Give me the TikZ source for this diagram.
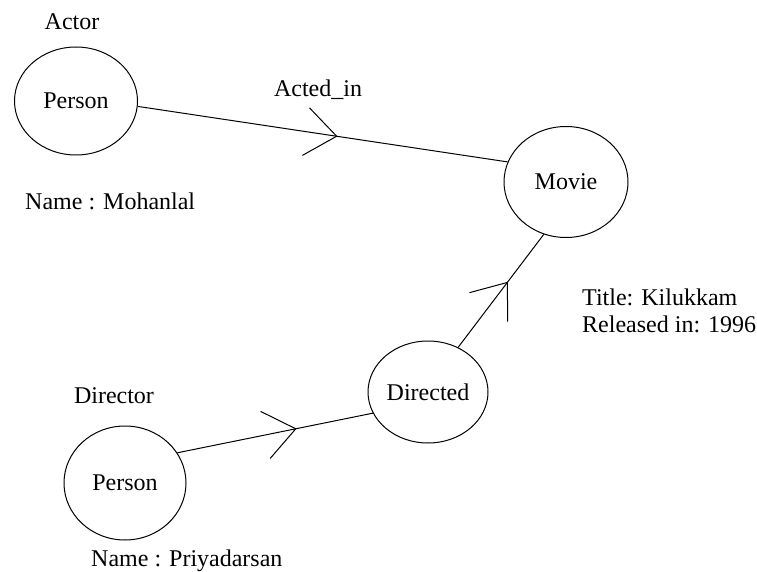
\documentclass[tikz,border=0pt]{standalone}
\usepackage{fontspec}
\setmainfont{Liberation Serif}
\usetikzlibrary{shapes.geometric,arrows.meta,decorations.markings}
\begin{document}
\begin{tikzpicture}[x=1pt,y=-1pt,
  ent/.style={draw, ellipse, line width=1pt, inner sep=0pt, font=\fontsize{24}{28}\selectfont},
  lbl/.style={font=\fontsize{24}{28}\selectfont, inner sep=0pt},
  conn/.style={line width=1pt},
  midarrow/.style={postaction={decorate,decoration={markings,mark=at position #1 with {\arrow[line width=1pt]{Straight Barb[length=31pt,width=48pt]}}}}}
]
\useasboundingbox (0,0) rectangle (757,572);
\node[ent, minimum width=123pt, minimum height=108pt] (p1) at (76,101) {Person};
\node[ent, minimum width=124pt, minimum height=111pt] (movie) at (566,182) {Movie};
\node[ent, minimum width=120pt, minimum height=102pt] (dir) at (428,392) {Directed};
\node[ent, minimum width=122pt, minimum height=114pt] (p2) at (125,483) {Person};

\node[lbl, anchor=base] (actor) at (72,30) {Actor};
\node[lbl, anchor=base] (acted) at (318,97) {Acted\_in};
\node[lbl, anchor=base west] (name1) at (25,209) {Name : Mohanlal};
\node[lbl, anchor=base west] (title) at (582,305) {Title: Kilukkam};
\node[lbl, anchor=base west] (rel) at (582,332) {Released in: 1996};
\node[lbl, anchor=base] (director) at (114,403) {Director};
\node[lbl, anchor=base west] (name2) at (91,566) {Name : Priyadarsan};

\draw[conn, midarrow=0.54] (p1.-5) -- (movie.161);
\draw[conn, midarrow=0.58] (dir.56) -- (movie.-113);
\draw[conn, midarrow=0.61] (p2.30) -- (dir.201);
\end{tikzpicture}
\end{document}
